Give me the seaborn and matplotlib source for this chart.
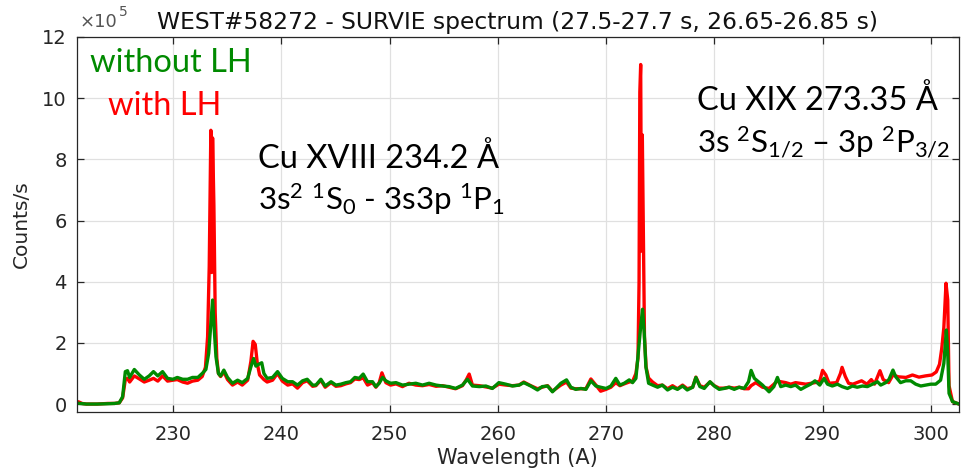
import numpy as np
import pandas as pd
import matplotlib
matplotlib.use("Agg")
import matplotlib.pyplot as plt
import seaborn as sns

# ---------------- data (Counts/s in units of 1e5) ----------------
wl_without = [221.1, 222.0, 223.0, 224.0, 224.6, 225.04, 225.35, 225.6, 225.8, 226.0, 226.43, 226.9,
              227.35, 227.8, 228.2, 228.6, 229.04, 229.5, 230.0, 230.4, 230.9, 231.35, 231.8, 232.3,
              232.7, 233.04, 233.3, 233.5, 233.66, 233.8, 233.97, 234.2, 234.4, 234.7, 235.04, 235.5,
              235.97, 236.4, 236.9, 237.2, 237.45, 237.66, 237.97, 238.2, 238.4, 238.7, 239.2, 239.66,
              240.1, 240.6, 241.05, 241.5, 241.97, 242.4, 242.9, 243.2, 243.66, 244.06, 244.6, 245.05,
              245.5, 245.97, 246.4, 246.8, 247.2, 247.57, 247.97, 248.43, 248.74, 249.05, 249.36, 249.66,
              250.1, 250.6, 251.2, 251.8, 252.43, 253.05, 253.66, 254.3, 254.9, 255.5, 256.1, 256.74,
              257.2, 257.66, 258.3, 258.9, 259.5, 260.1, 260.74, 261.36, 261.97, 262.4, 263.05, 263.67,
              264.1, 264.6, 265.05, 265.83, 266.35, 266.75, 267.2, 267.68, 268.14, 268.6, 269.06, 269.5,
              270.0, 270.45, 270.9, 271.28, 271.68, 272.14, 272.45, 272.76, 273.0, 273.2, 273.37, 273.53,
              273.68, 273.93, 274.3, 274.76, 275.2, 275.68, 276.14, 276.6, 277.07, 277.5, 278.0, 278.3,
              278.67, 279.07, 279.6, 280.0, 280.45, 280.9, 281.37, 281.84, 282.3, 282.76, 283.16, 283.4,
              283.7, 284.45, 285.06, 285.5, 285.83, 286.14, 286.6, 287.06, 287.5, 287.99, 288.45, 288.9,
              289.3, 289.74, 290.14, 290.45, 290.9, 291.37, 291.8, 292.3, 292.76, 293.2, 293.68, 294.14,
              294.6, 295.07, 295.37, 295.83, 296.14, 296.5, 296.76, 297.2, 297.68, 298.14, 298.6, 299.07,
              299.53, 300.0, 300.45, 300.9, 301.2, 301.43, 301.56, 301.68, 302.0, 302.6, 302.7]
counts_without = [0.03, 0.0, 0.0, 0.01, 0.02, 0.04, 0.24, 1.06, 1.09, 0.87, 1.13, 0.95,
                  0.81, 0.92, 1.06, 0.92, 1.06, 0.84, 0.81, 0.87, 0.81, 0.81, 0.87, 0.87,
                  1.0, 1.13, 1.66, 2.63, 3.4, 2.53, 1.55, 1.0, 0.92, 1.11, 0.87, 0.68,
                  0.78, 0.70, 0.84, 1.22, 1.49, 1.24, 1.31, 1.35, 1.0, 0.84, 0.87, 1.06,
                  0.84, 0.73, 0.73, 0.62, 0.76, 0.81, 0.62, 0.62, 0.81, 0.59, 0.73, 0.62,
                  0.65, 0.70, 0.73, 0.87, 0.84, 0.98, 0.73, 0.73, 0.57, 0.68, 0.87, 0.76,
                  0.68, 0.70, 0.62, 0.65, 0.68, 0.62, 0.68, 0.62, 0.59, 0.57, 0.51, 0.62,
                  0.81, 0.59, 0.57, 0.59, 0.51, 0.70, 0.65, 0.59, 0.62, 0.70, 0.59, 0.46,
                  0.57, 0.59, 0.40, 0.68, 0.79, 0.55, 0.48, 0.51, 0.48, 0.76, 0.59, 0.55,
                  0.51, 0.59, 0.84, 0.62, 0.68, 0.79, 0.70, 0.84, 1.76, 2.53, 3.1, 2.31,
                  1.22, 0.68, 0.62, 0.55, 0.62, 0.46, 0.55, 0.48, 0.59, 0.46, 0.55, 0.87,
                  0.57, 0.51, 0.73, 0.59, 0.48, 0.51, 0.55, 0.48, 0.55, 0.51, 0.73, 1.1,
                  0.84, 0.62, 0.40, 0.57, 0.87, 0.57, 0.62, 0.57, 0.62, 0.48, 0.57, 0.65,
                  0.76, 0.62, 0.84, 0.65, 0.59, 0.65, 0.57, 0.51, 0.59, 0.55, 0.59, 0.57,
                  0.65, 0.73, 0.62, 0.70, 0.81, 1.11, 0.89, 0.70, 0.76, 0.76, 0.65, 0.59,
                  0.62, 0.65, 0.65, 0.78, 1.33, 2.42, 1.65, 0.35, 0.08, 0.0, 0.0]

wl_with = [221.1, 221.3, 221.6, 222.0, 223.0, 224.0, 224.6, 225.04, 225.35, 225.6, 225.8, 226.0,
           226.43, 226.9, 227.35, 227.8, 228.2, 228.6, 229.04, 229.5, 230.0, 230.4, 230.9, 231.35,
           231.8, 232.3, 232.7, 233.0, 233.2, 233.35, 233.5, 233.58, 233.66, 233.78, 233.9, 234.05,
           234.2, 234.4, 234.7, 235.04, 235.5, 235.97, 236.4, 236.9, 237.2, 237.4, 237.6, 237.8,
           238.0, 238.4, 238.7, 239.2, 239.66, 240.1, 240.6, 241.05, 241.5, 241.97, 242.4, 242.9,
           243.2, 243.66, 244.06, 244.6, 245.05, 245.5, 245.97, 246.4, 246.8, 247.2, 247.57, 247.97,
           248.43, 248.74, 249.05, 249.3, 249.66, 250.1, 250.6, 251.2, 251.8, 252.43, 253.05, 253.66,
           254.3, 254.9, 255.5, 256.1, 256.74, 257.1, 257.36, 257.66, 258.3, 258.9, 259.5, 260.1,
           260.74, 261.36, 261.97, 262.4, 263.05, 263.67, 264.1, 264.6, 265.05, 265.83, 266.35, 266.75,
           267.2, 267.68, 268.14, 268.6, 269.06, 269.5, 270.0, 270.45, 270.9, 271.28, 271.68, 272.14,
           272.45, 272.76, 272.95, 273.05, 273.12, 273.2, 273.27, 273.35, 273.45, 273.55, 273.7, 273.93,
           274.3, 274.76, 275.2, 275.68, 276.14, 276.6, 277.07, 277.5, 278.0, 278.3, 278.67, 279.07,
           279.6, 280.0, 280.45, 280.9, 281.37, 281.84, 282.3, 282.76, 283.16, 283.4, 283.83, 284.45,
           285.06, 285.83, 286.6, 287.06, 287.5, 288.45, 289.3, 289.74, 290.0, 290.3, 290.6, 291.3,
           291.65, 291.8, 292.1, 292.4, 292.8, 293.6, 294.1, 294.5, 294.8, 295.3, 295.6, 296.1,
           296.5, 297.0, 297.7, 298.3, 298.9, 299.5, 300.1, 300.5, 300.8, 301.0, 301.2, 301.4,
           301.56, 301.68, 302.0, 302.6, 302.7]
counts_with = [0.08, 0.07, 0.02, 0.0, 0.0, 0.02, 0.02, 0.04, 0.2, 0.8, 0.84, 0.72,
               0.92, 0.82, 0.72, 0.78, 0.84, 0.75, 0.92, 0.75, 0.78, 0.8, 0.72, 0.68,
               0.75, 0.78, 0.9, 1.2, 2.2, 4.5, 8.95, 4.3, 8.7, 6.5, 3.0, 1.5,
               1.0, 0.9, 1.05, 0.8, 0.62, 0.72, 0.62, 0.78, 1.4, 2.05, 1.95, 1.3,
               0.95, 0.8, 0.72, 0.78, 1.0, 0.75, 0.62, 0.66, 0.52, 0.7, 0.76, 0.58,
               0.6, 0.78, 0.55, 0.7, 0.58, 0.6, 0.66, 0.7, 0.82, 0.8, 0.86, 0.62,
               0.7, 0.55, 0.7, 1.02, 0.7, 0.62, 0.66, 0.57, 0.68, 0.62, 0.6, 0.64,
               0.58, 0.6, 0.55, 0.5, 0.6, 0.8, 0.98, 0.62, 0.6, 0.56, 0.52, 0.65,
               0.62, 0.6, 0.62, 0.72, 0.6, 0.5, 0.55, 0.6, 0.42, 0.62, 0.72, 0.52,
               0.5, 0.5, 0.5, 0.82, 0.62, 0.42, 0.48, 0.55, 0.7, 0.6, 0.66, 0.72,
               0.74, 1.0, 1.5, 4.0, 10.2, 11.1, 5.0, 8.8, 5.5, 2.2, 1.2, 0.85,
               0.72, 0.6, 0.62, 0.5, 0.6, 0.5, 0.62, 0.5, 0.55, 0.88, 0.6, 0.55,
               0.72, 0.6, 0.52, 0.52, 0.55, 0.52, 0.55, 0.5, 0.5, 0.6, 0.7, 0.55,
               0.51, 0.75, 0.7, 0.65, 0.7, 0.65, 0.7, 0.75, 1.1, 0.95, 0.68, 0.7,
               1.0, 1.2, 0.9, 0.68, 0.65, 0.76, 0.65, 0.8, 0.65, 1.09, 0.8, 0.7,
               0.95, 0.89, 0.87, 0.95, 0.88, 0.92, 0.95, 1.05, 1.3, 1.8, 2.5, 3.95,
               3.4, 0.6, 0.08, 0.0, 0.0]

x_ticks = [230, 240, 250, 260, 270, 280, 290, 300]
y_ticks = [0, 2, 4, 6, 8, 10, 12]

title = "WEST#58272 - SURVIE spectrum (27.5-27.7 s, 26.65-26.85 s)"
xlabel = "Wavelength (A)"
ylabel = "Counts/s"

# ---------------- plotting ----------------
sns.set_theme(style="ticks")
plt.rcParams["font.family"] = ["DejaVu Sans"]
plt.rcParams["mathtext.fontset"] = "custom"
plt.rcParams["mathtext.rm"] = "Lato"
plt.rcParams["mathtext.it"] = "Lato:italic"
plt.rcParams["mathtext.bf"] = "Lato:bold"

W, H = 961, 473
fig = plt.figure(figsize=(W / 100, H / 100), dpi=100)
ax = fig.add_axes([76.6 / W, 1 - 412 / H, (959 - 76.6) / W, (412 - 37) / H])

RED = "#ff0000"
GREEN = "#008a00"

df_with = pd.DataFrame({"wl": wl_with, "counts": counts_with})
df_without = pd.DataFrame({"wl": wl_without, "counts": counts_without})

sns.lineplot(data=df_with, x="wl", y="counts", ax=ax, color=RED, lw=2.4,
             estimator=None, sort=False)
sns.lineplot(data=df_without, x="wl", y="counts", ax=ax, color=GREEN, lw=2.4,
             estimator=None, sort=False)

ax.set_xlim(221.1, 302.6)
ax.set_ylim(-0.26, 12)
ax.set_xticks(x_ticks)
ax.set_yticks(y_ticks)
ax.set_xticklabels([str(t) for t in x_ticks])
ax.set_yticklabels([str(t) for t in y_ticks])

axc = "#262626"
ax.grid(True, color="#e0e0e0", lw=0.9)
for s in ax.spines.values():
    s.set_color(axc)
    s.set_linewidth(0.9)
    s.set_visible(True)
ax.tick_params(axis="both", direction="in", length=5, width=0.9, colors=axc,
               labelsize=14, top=True, right=True)
ax.tick_params(axis="x", pad=9)
ax.tick_params(axis="y", pad=7)

ax.set_xlabel(xlabel, fontsize=15, color=axc, labelpad=3)
ax.set_ylabel(ylabel, fontsize=14.5, color=axc, labelpad=8)
ax.set_title(title, fontsize=16.8, color="#111111", pad=6)

# exponent label
fig.text(80 / W, 1 - 27 / H, "×10", fontsize=13, color="#555555", va="baseline", ha="left")
fig.text(119 / W, 1 - 16 / H, "5", fontsize=10, color="#555555", va="baseline", ha="left")

# annotations
fs = 23.5
fs2 = 22.5
fig.text(90 / W, 1 - 72 / H, "without LH", color=GREEN, fontsize=fs, family="Lato", va="baseline")
fig.text(108 / W, 1 - 115 / H, "with LH", color=RED, fontsize=fs, family="Lato", va="baseline")
fig.text(258 / W, 1 - 168 / H, "Cu XVIII 234.2 Å", color="black", fontsize=fs, family="Lato",
         va="baseline")
fig.text(258 / W, 1 - 210 / H, r"3s$^2$ $^1$S$_0$ - 3s3p $^1$P$_1$", color="black", fontsize=fs2,
         family="Lato", va="baseline")
fig.text(697 / W, 1 - 110 / H, "Cu XIX 273.35 Å", color="black", fontsize=fs, family="Lato",
         va="baseline")
fig.text(697 / W, 1 - 152 / H, r"3s $^2$S$_{1/2}$ – 3p $^2$P$_{3/2}$", color="black", fontsize=fs2,
         family="Lato", va="baseline")

fig.savefig("out.png", dpi=100)
